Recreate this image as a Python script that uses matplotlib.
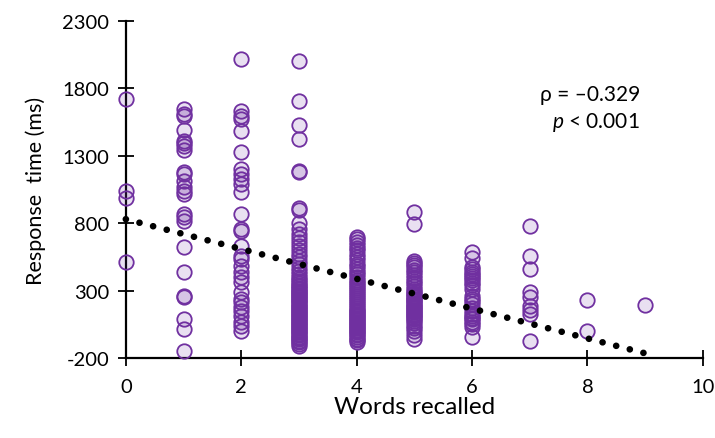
import matplotlib
matplotlib.use("Agg")
import matplotlib.pyplot as plt
import numpy as np

# Response times (ms) grouped by number of words recalled
rt_by_words = {
    0: [1718, 1040, 990, 511],
    1: [1644, 1607, 1593, 1489, 1407, 1393, 1370, 1341, 1178, 1163, 1111,
        1067, 1040, 1015, 867, 844, 815, 622, 437, 259, 252, 89, 15, -148],
    2: [2015, 1630, 1593, 1570, 1481, 1326, 1200, 1163, 1126, 1089, 1030,
        867, 756, 741, 630, 556, 533, 481, 437, 400, 363, 289, 237, 215,
        178, 148, 111, 67, 37, 0],
    3: [2000, 1704, 1526, 1422, 1190, 1180, 910, 900, 800, 760, 720,
        690, 660, 630, 600, 575, 550, 520, 495, 470, 445, 420, 400, 385,
        370, 358, 345, 332, 320, 310, 300, 290, 280, 270, 260, 250, 240,
        230, 220, 210, 200, 190, 180, 170, 160, 150, 140, 130, 120, 110,
        100, 90, 80, 70, 60, 50, 40, 30, 20, 10, 0, -10, -20, -30, -40,
        -50, -60, -70, -80, -95, -111],
    4: [696, 680, 660, 640, 620, 600, 575, 550, 525, 500, 480, 460, 440,
        420, 400, 380, 365, 350, 335, 320, 305, 290, 275, 260, 245, 230,
        215, 200, 185, 170, 160, 150, 140, 130, 120, 110, 100, 90, 80, 70,
        60, 50, 40, 30, 20, 10, 0, -10, -20, -30, -42, -55, -68, -81],
    5: [881, 793, 519, 505, 490, 475, 455, 435, 415, 395, 375, 355, 335,
        315, 298, 285, 272, 260, 250, 240, 230, 220, 210, 200, 190, 180,
        170, 160, 150, 140, 130, 120, 110, 100, 90, 75, 60, 40, 20, 0,
        -25, -59],
    6: [585, 540, 474, 460, 437, 420, 407, 395, 380, 360, 340, 311, 259,
        237, 220, 200, 170, 150, 130, 110, 100, 89, 70, 52, 30, -44],
    7: [778, 556, 459, 289, 252, 185, 160, 126, -74],
    8: [230, 0],
    9: [193],
}

# Least-squares trend line
trend_intercept = 830
trend_slope = -110.5
trend_x_range = [0, 9]

x_ticks = [0, 2, 4, 6, 8, 10]
y_ticks = [-200, 300, 800, 1300, 1800, 2300]
y_tick_labels = ["-200", "300", "800", "1300", "1800", "2300"]

rho_text = "ρ = –0.329"
p_text = "$\\it{p}$ < 0.001"

plt.rcParams["font.family"] = ["Lato", "DejaVu Sans"]
plt.rcParams["mathtext.fontset"] = "custom"
plt.rcParams["mathtext.it"] = "Lato:italic"

fig = plt.figure(figsize=(7.15, 4.39), dpi=100)
ax = fig.add_axes([0.176, 0.182, 0.807, 0.768])

xs = np.concatenate([[k] * len(v) for k, v in rt_by_words.items()])
ys = np.concatenate([v for v in rt_by_words.values()])

purple = "#7030A0"
ax.scatter(xs, ys, s=108, facecolor=(0.44, 0.19, 0.63, 0.15),
           edgecolor=purple, linewidth=1.3, clip_on=False, zorder=3)

tx = np.array(trend_x_range, dtype=float)
ax.plot(tx, trend_intercept + trend_slope * tx, color="black",
        linewidth=4.8, linestyle=(0, (0.01, 2.1)), dash_capstyle="round",
        solid_capstyle="round", zorder=4, clip_on=False)

ax.set_xlim(0, 10)
ax.set_ylim(-200, 2300)
ax.set_xticks(x_ticks)
ax.set_yticks(y_ticks)
ax.set_yticklabels(y_tick_labels)

for side in ("top", "right"):
    ax.spines[side].set_visible(False)
for side in ("left", "bottom"):
    ax.spines[side].set_linewidth(1.6)
ax.tick_params(axis="both", direction="inout", length=12, width=1.3,
               labelsize=14.5, pad=6)
ax.tick_params(axis="x", pad=8)

ax.set_xlabel("Words recalled", fontsize=17.5, labelpad=1)
ax.set_ylabel("Response  time (ms)", fontsize=15.5, labelpad=12)

ax.text(0.891, 0.783, rho_text, transform=ax.transAxes, fontsize=15,
        ha="right", va="center")
ax.text(0.891, 0.703, p_text, transform=ax.transAxes, fontsize=15,
        ha="right", va="center")

fig.savefig("out.png", dpi=100)
